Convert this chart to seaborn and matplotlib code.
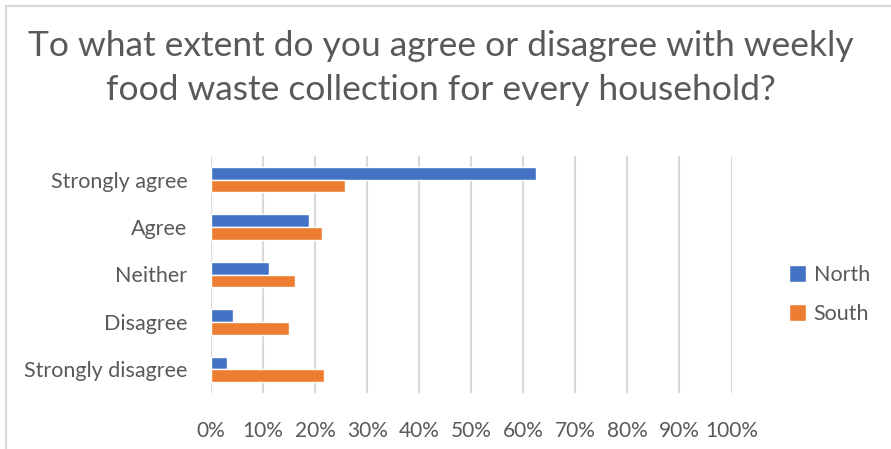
import pandas as pd
import seaborn as sns
import matplotlib.pyplot as plt
from matplotlib.lines import Line2D
from matplotlib.ticker import PercentFormatter

categories = ["Strongly agree", "Agree", "Neither", "Disagree", "Strongly disagree"]
north = [62.4, 18.9, 11.2, 4.3, 3.1]
south = [25.8, 21.4, 16.2, 15.0, 21.7]
series = ["North", "South"]
xticks = list(range(0, 101, 10))

TEXT = "#595959"
GRID = "#d9d9d9"
colors = {"North": "#4472C4", "South": "#ED7D31"}


def main():
    df = pd.DataFrame({
        "category": categories * 2,
        "value": north + south,
        "region": [series[0]] * len(categories) + [series[1]] * len(categories),
    })

    sns.set_theme(style="white")
    plt.rcParams["font.family"] = ["Lato", "DejaVu Sans"]

    W, H = 891, 449
    fig = plt.figure(figsize=(W / 100, H / 100), dpi=100)
    ax = fig.add_axes([211 / W, (H - 393) / H, (731.5 - 211) / W, (393 - 156) / H])

    sns.barplot(data=df, y="category", x="value", hue="region", order=categories,
                hue_order=series, palette=colors, orient="h", width=0.537,
                saturation=1, ax=ax, zorder=3)

    ax.set_xlim(0, 100)
    ax.set_ylim(len(categories) - 0.5, -0.5)
    ax.set_xticks(xticks)
    ax.xaxis.set_major_formatter(PercentFormatter(decimals=0))
    ax.grid(axis="x", color=GRID, linewidth=1.5, zorder=0)
    ax.grid(axis="y", visible=False)
    for s in ax.spines.values():
        s.set_visible(False)
    ax.tick_params(axis="x", length=0, pad=20, labelsize=15, labelcolor=TEXT)
    ax.tick_params(axis="y", length=0, pad=17, labelsize=15.5, labelcolor=TEXT)
    ax.set_xlabel("")
    ax.set_ylabel("")

    leg = ax.legend(loc="center left", bbox_to_anchor=(789 / W, (H - 294.5) / H),
                    bbox_transform=fig.transFigure, frameon=False, fontsize=15.5,
                    handlelength=0.8, handleheight=0.8, handletextpad=0.35,
                    labelspacing=0.9, borderpad=0, borderaxespad=0)
    for t in leg.get_texts():
        t.set_color(TEXT)

    fig.text(441 / W, (H - 68) / H,
             "To what extent do you agree or disagree with weekly\nfood waste collection for every household?",
             ha="center", va="center", multialignment="center", fontsize=25.5,
             color=TEXT, linespacing=1.45)

    # chart area border (only left and top visible in the crop)
    fig.add_artist(Line2D([6 / W, 6 / W], [0, (H - 6) / H], color=GRID, lw=1.5,
                          transform=fig.transFigure))
    fig.add_artist(Line2D([6 / W, 1], [(H - 6) / H, (H - 6) / H], color=GRID, lw=1.5,
                          transform=fig.transFigure))

    fig.savefig("out.png", dpi=100)


if __name__ == "__main__":
    main()
